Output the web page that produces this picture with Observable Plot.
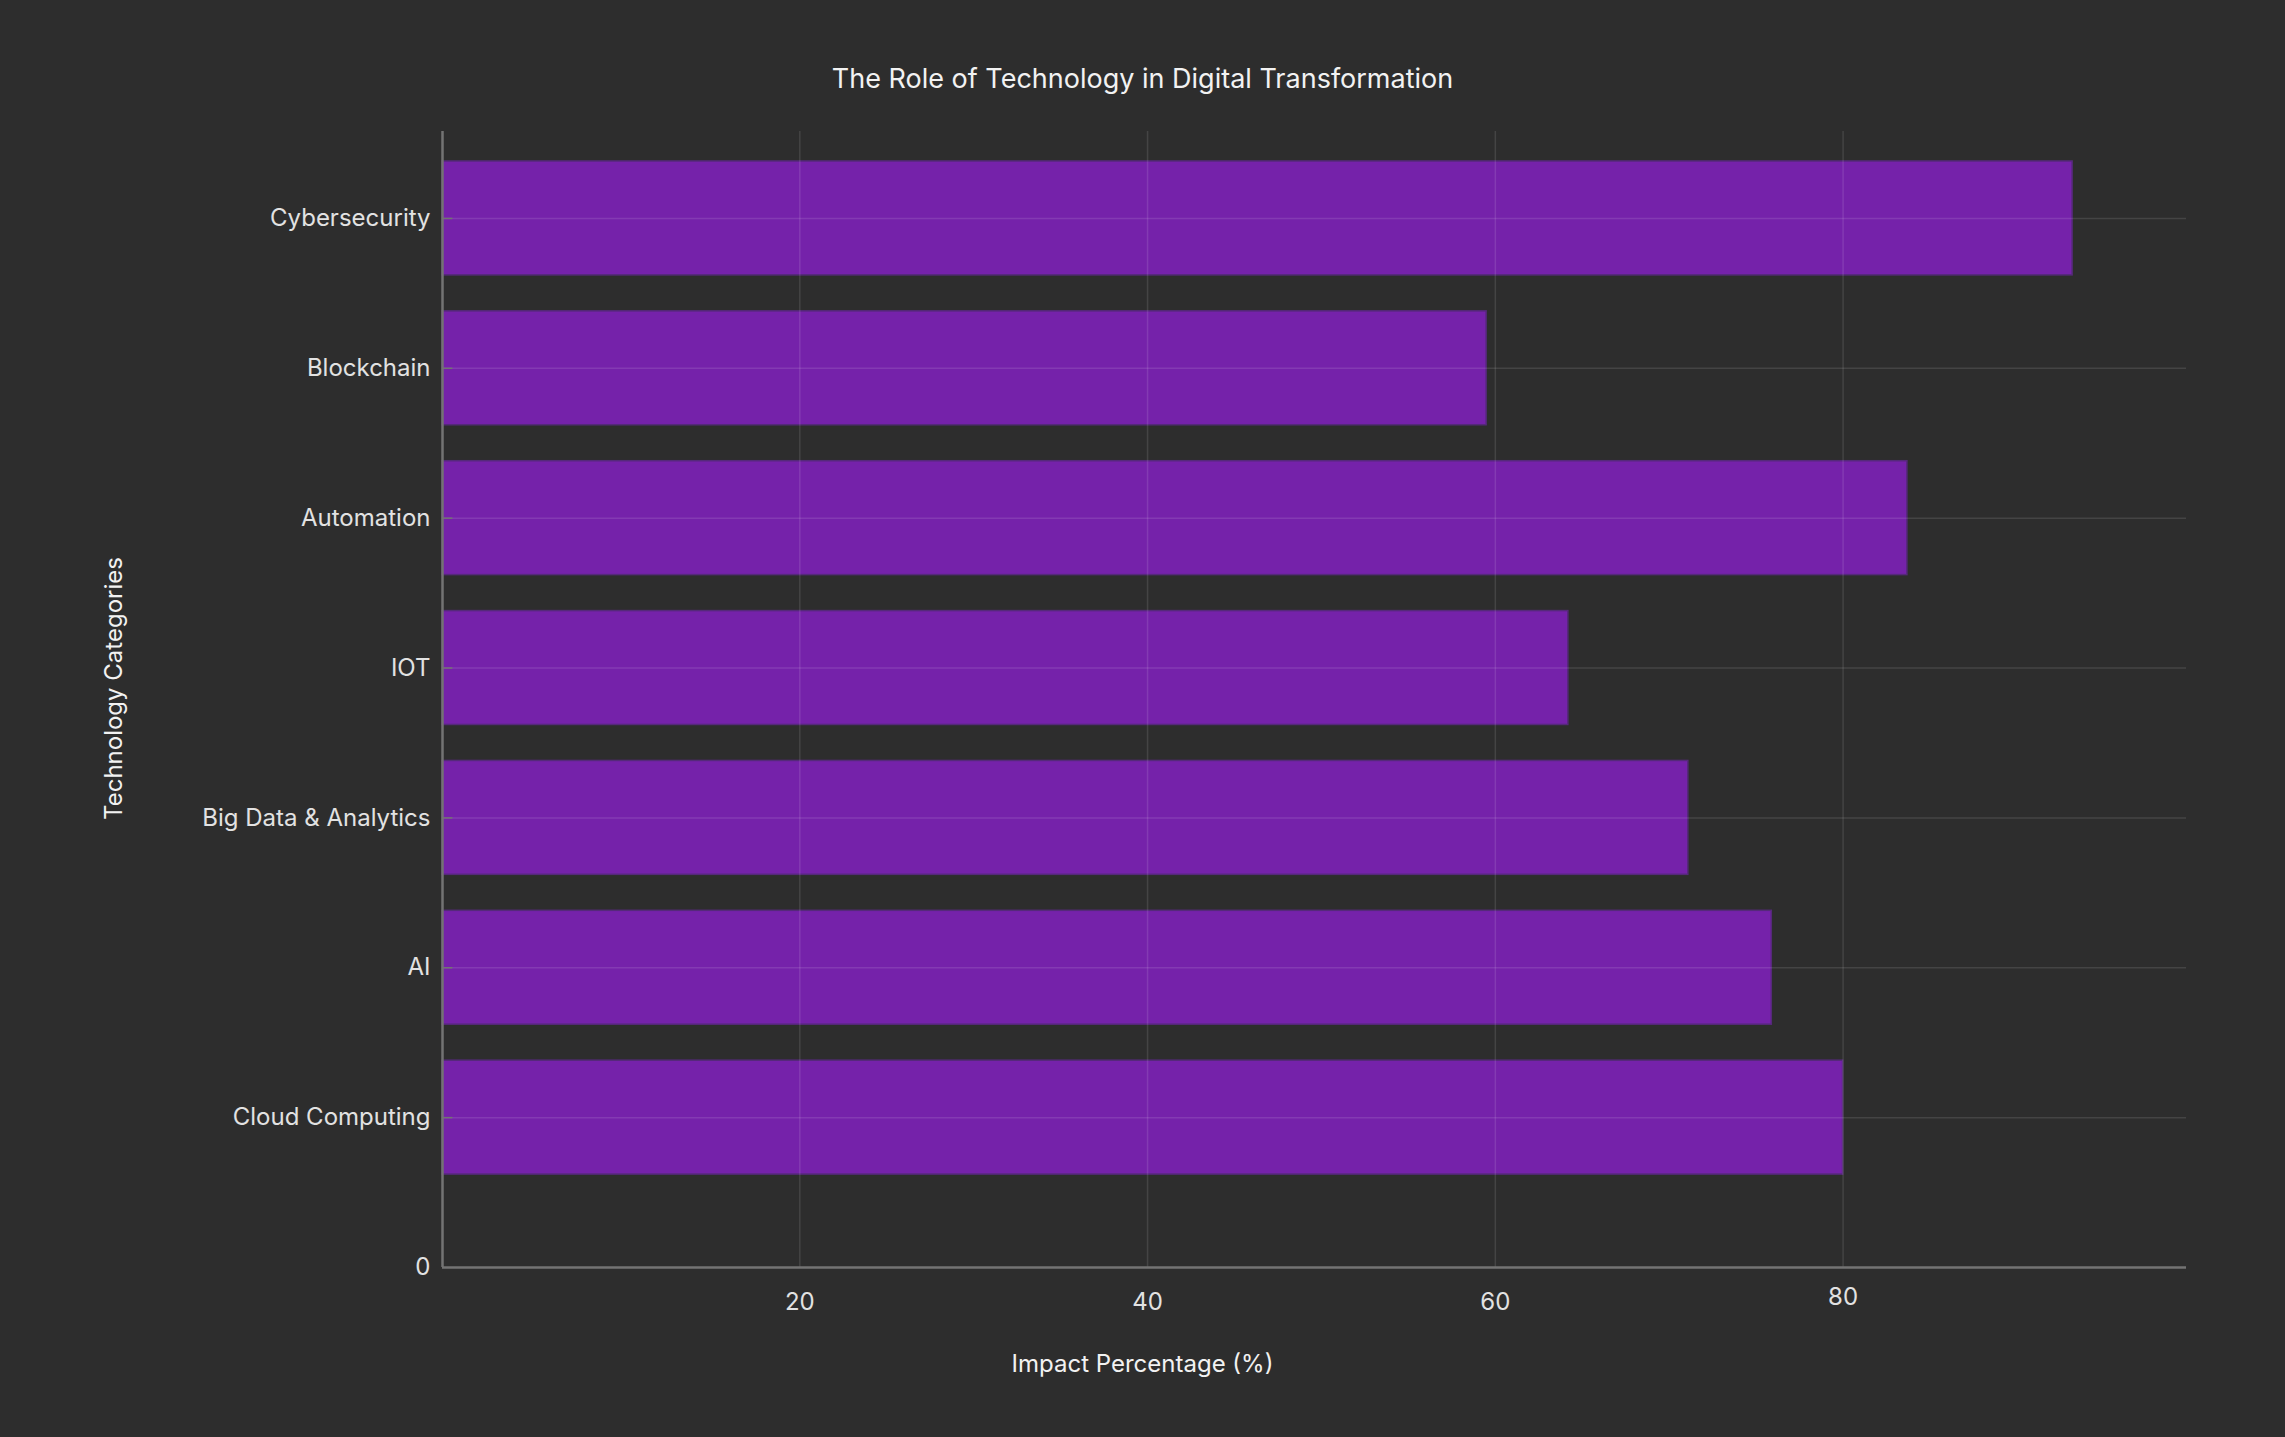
<!DOCTYPE html>
<html>
<head>
<meta charset="utf-8">
<script src="https://cdn.jsdelivr.net/npm/d3@7"></script>
<script src="https://cdn.jsdelivr.net/npm/@observablehq/plot@0.6"></script>
<style>
  html, body { margin: 0; padding: 0; background: #2d2d2d; }
  #title {
    width: 2285px; height: 47px; padding-top: 63px;
    text-align: center; line-height: 32px;
    font-family: Inter, sans-serif; font-size: 27px; color: #f2f2f2;
  }
</style>
</head>
<body>
<div id="title">The Role of Technology in Digital Transformation</div>
<div id="chart"></div>
<script>
const categories = ["Cloud Computing", "AI", "Big Data & Analytics", "IOT", "Automation", "Blockchain", "Cybersecurity"];
const impact = [80.0, 75.9, 71.1, 64.2, 83.7, 59.5, 93.2];
const xTicks = [20, 40, 60, 80];
const yZeroLabel = "0";
const xTitle = "Impact Percentage (%)";
const yTitle = "Technology Categories";

const xMin = -0.55, xMax = 99.75;
const yMax = 7.58;

const rows = categories.map((c, i) => ({category: c, pos: i + 1, value: impact[i]}));
const yTicks = [{pos: 0, label: yZeroLabel}, ...rows.map(r => ({pos: r.pos, label: r.category}))];

const grid = {stroke: "#ffffff", strokeOpacity: 0.11, strokeWidth: 1.5};
const axisColor = "#737373";
const labelColor = "#e2e2e2";
const fs = 24;

const chart = Plot.plot({
  width: 2285,
  height: 1327,
  marginTop: 21,
  marginBottom: 170,
  marginLeft: 442,
  marginRight: 99,
  x: {domain: [xMin, xMax], axis: null},
  y: {domain: [0, yMax], axis: null},
  style: {background: "#2d2d2d", fontFamily: "Inter, sans-serif", color: labelColor},
  marks: [
    Plot.rectX(rows, {
      x1: xMin, x2: "value",
      y1: d => d.pos - 0.38, y2: d => d.pos + 0.38,
      fill: "#7522aa", stroke: "#55297a", strokeWidth: 1.5
    }),
    Plot.ruleX(xTicks, {x: d => d, ...grid}),
    Plot.ruleY(rows, {y: "pos", ...grid}),
    Plot.ruleY(rows, {y: "pos", x1: xMin, x2: xMin + 0.6, stroke: axisColor, strokeWidth: 1.5}),
    Plot.ruleX([xMin], {stroke: axisColor, strokeWidth: 2.5}),
    Plot.ruleY([0], {stroke: axisColor, strokeWidth: 2.5}),
    Plot.text(yTicks, {x: xMin, y: "pos", text: "label", textAnchor: "end", dx: -12, fontSize: fs, fill: labelColor}),
    Plot.text(xTicks.filter(d => d !== 80), {x: d => d, y: 0, text: d => String(d), dy: 35, fontSize: fs, fill: labelColor}),
    Plot.text(xTicks.filter(d => d === 80), {x: d => d, y: 0, text: d => String(d), dy: 30, fontSize: fs, fill: labelColor}),
    Plot.text([xTitle], {frameAnchor: "bottom", text: d => d, dx: -172, dy: 104, fontSize: fs, fill: "#f2f2f2"}),
    Plot.text([yTitle], {frameAnchor: "left", text: d => d, rotate: -90, textAnchor: "middle", dx: -328, dy: -11, fontSize: fs, fill: "#f2f2f2"})
  ]
});
document.getElementById("chart").appendChild(chart);
</script>
</body>
</html>
